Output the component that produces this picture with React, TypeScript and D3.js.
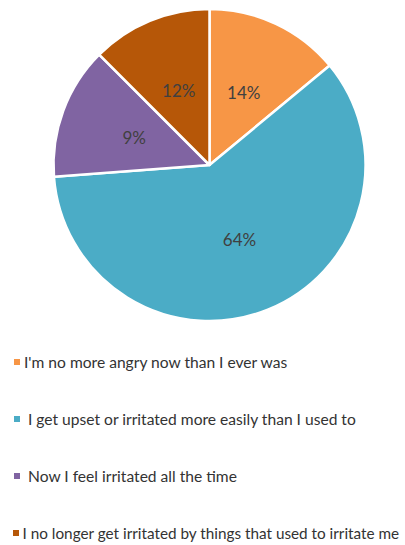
import React from "react";
import * as d3 from "d3";

const categories = [
  "I'm no more angry now than I ever was",
  " I get upset or irritated more easily than I used to",
  " Now I feel irritated all the time",
  "I no longer get irritated by things that used to irritate me",
];
const sliceValues = [14, 59.8, 13.7, 12.5];
const percentLabels = ["14%", "64%", "9%", "12%"];
const colors = ["#F79646", "#4BACC6", "#8064A2", "#B65708"];

const W = 405;
const H = 545;
const CX = 209.5;
const CY = 165;
const R = 156;
const FONT = "Lato, 'Open Sans', sans-serif";

export default function App() {
  const pie = d3
    .pie<number>()
    .sort(null)
    .value((d) => d)
    .startAngle(0)
    .endAngle(2 * Math.PI);
  const arcs = pie(sliceValues);
  const arc = d3.arc<d3.PieArcDatum<number>>().innerRadius(0).outerRadius(R);
  const labelArc = d3
    .arc<d3.PieArcDatum<number>>()
    .innerRadius(0)
    .outerRadius(R * 1.03);

  const legendY = d3
    .scalePoint<number>()
    .domain(d3.range(categories.length))
    .range([362, 533]);

  return (
    <svg
      width={W}
      height={H}
      style={{ position: "absolute", left: 0, top: 0, background: "#fff" }}
    >
      <g transform={`translate(${CX},${CY})`}>
        {arcs.map((a, i) => (
          <path
            key={i}
            d={arc(a) || ""}
            fill={colors[i]}
            stroke="#fff"
            strokeWidth={2.5}
            strokeLinejoin="round"
          />
        ))}
        {arcs.map((a, i) => {
          const [x, y] = labelArc.centroid(a);
          return (
            <text
              key={i}
              x={x}
              y={y}
              textAnchor="middle"
              dominantBaseline="central"
              fontFamily={FONT}
              fontSize={17}
              fill="#404040"
            >
              {percentLabels[i]}
            </text>
          );
        })}
      </g>
      <g>
        {categories.map((c, i) => {
          const y = legendY(i) as number;
          const last = i === categories.length - 1;
          return (
            <g key={i}>
              <rect x={last ? 13 : 14} y={y - 3} width={6} height={6} fill={colors[i]} />
              <text
                x={last ? 22.5 : 24}
                y={y}
                dominantBaseline="central"
                fontFamily={FONT}
                fontSize={last ? 15.3 : 15.6}
                fill="#333"
                style={{ whiteSpace: "pre" }}
              >
                {c}
              </text>
            </g>
          );
        })}
      </g>
    </svg>
  );
}
